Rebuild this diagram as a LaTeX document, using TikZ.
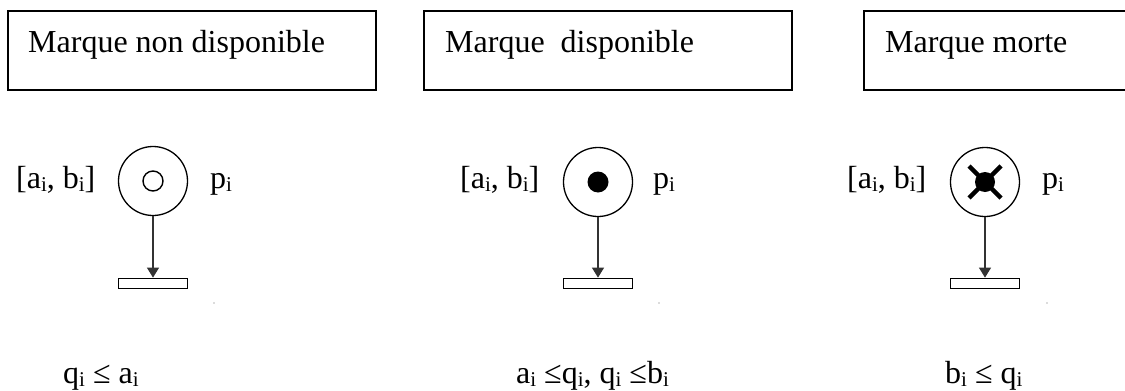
\documentclass[tikz,border=0pt]{standalone}
\usepackage{fontspec}
\setmainfont{Liberation Serif}
\usetikzlibrary{arrows.meta}
\newcommand\sbi{\raisebox{-0.12em}{\fontsize{21}{21}\selectfont i}}
\tikzset{
  x=1pt, y=-1pt,
  txt/.style={anchor=base west, inner sep=0pt, font=\fontsize{32}{36}\selectfont},
  boxnode/.style={draw, line width=1.5pt, anchor=north west, inner sep=0pt, minimum height=79pt},
  placenode/.style={circle, draw, line width=1.3pt, minimum size=69pt, inner sep=0pt},
  transnode/.style={rectangle, draw, line width=1.3pt, minimum width=69pt, minimum height=10.5pt, inner sep=0pt},
  arcline/.style={-{Triangle[length=10pt,width=12pt]}, line width=1.3pt, draw=black!80},
  speck/.style={circle, fill=black!60, inner sep=0pt, minimum size=1.4pt}
}
\begin{document}
\begin{tikzpicture}
\useasboundingbox (0,0) rectangle (1125,391);
\clip (0,0) rectangle (1125,391);
% boxes
\node[boxnode, minimum width=368pt] (b1) at (7,10) {};
\node[boxnode, minimum width=368pt] (b2) at (423,10) {};
\node[boxnode, minimum width=300pt] (b3) at (863,10) {};
\node[txt] (h1) at (28,52) {Marque non disponible};
\node[txt] (h2) at (445,52) {Marque\ \ disponible};
\node[txt] (h3) at (885,52) {Marque morte};
% places
\node[placenode] (p1) at (153,181) {};
\node[placenode] (p2) at (598,182) {};
\node[placenode] (p3) at (985,182) {};
% tokens
\node[circle, draw, line width=1.4pt, minimum size=20pt, inner sep=0pt] (k1) at (p1.center) {};
\node[circle, fill=black, minimum size=21pt, inner sep=0pt] (k2) at (p2.center) {};
\node[circle, fill=black, minimum size=20pt, inner sep=0pt] (k3) at (p3.center) {};
\draw[line width=4.5pt] ([shift={(-16,-16)}]k3.center) -- ([shift={(16,16)}]k3.center);
\draw[line width=4.5pt] ([shift={(16,-16)}]k3.center) -- ([shift={(-16,16)}]k3.center);
% transitions
\node[transnode] (t1) at (153,283.5) {};
\node[transnode] (t2) at (598,283.5) {};
\node[transnode] (t3) at (985,283.5) {};
\draw[arcline] (p1) -- (t1);
\draw[arcline] (p2) -- (t2);
\draw[arcline] (p3) -- (t3);
% labels
\node[txt] (l1) at (16,188) {[a\sbi, b\sbi]};
\node[txt] (l2) at (460,188) {[a\sbi, b\sbi]};
\node[txt] (l3) at (847,188) {[a\sbi, b\sbi]};
\node[txt] (n1) at (210,188) {p\sbi};
\node[txt] (n2) at (653,188) {p\sbi};
\node[txt] (n3) at (1042,188) {p\sbi};
% conditions
\node[txt] (c1) at (63,383) {q\sbi{} ≤ a\sbi};
\node[txt] (c2) at (516,383) {a\sbi{} ≤q\sbi, q\sbi{} ≤b\sbi};
\node[txt] (c3) at (945,383) {b\sbi{} ≤ q\sbi};
% specks
\node[speck] (s1) at (214,303) {};
\node[speck] (s2) at (659,303) {};
\node[speck] (s3) at (1047,303) {};
\end{tikzpicture}
\end{document}
